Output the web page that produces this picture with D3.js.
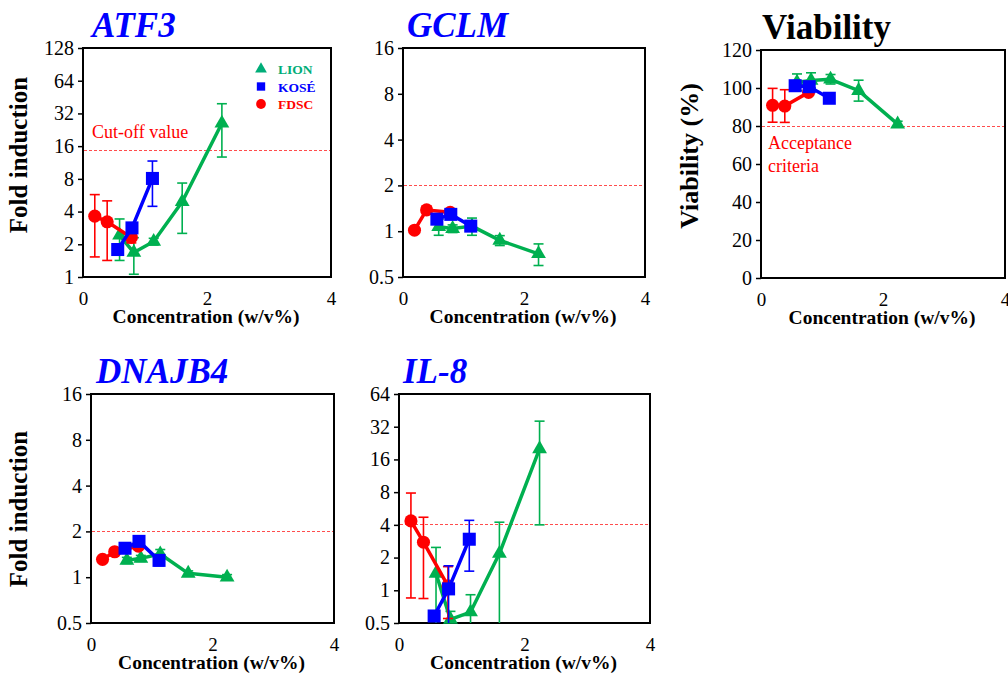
<!DOCTYPE html>
<html>
<head>
<meta charset="utf-8">
<script src="https://cdn.jsdelivr.net/npm/d3@7"></script>
<style>
  body { margin: 0; background: #fff; }
  text { font-family: "Liberation Serif", "Times New Roman", Times, serif; }
</style>
</head>
<body>
<svg id="chart" width="1008" height="673"></svg>
<script>
// Concentrations tested by each lab (w/v%)
const lionConc = [0.59, 0.82, 1.14, 1.6, 2.24];
const koseConc = [0.56, 0.79, 1.12];
const fdscConc = [0.19, 0.39, 0.78];

// ATF3 fold induction (mean, SD)
const atf3Lion = [2.42, 1.68, 2.12, 4.92, 26];
const atf3LionSd = [1.0, 0.62, 0.15, 2.4, 13.3];
const atf3Kose = [1.79, 2.83, 8.07];
const atf3KoseSd = [0.15, 0.3, 3.6];
const atf3Fdsc = [3.63, 3.22, 2.31];
const atf3FdscSd = [2.1, 1.8, 0.25];

// GCLM fold induction
const gclmLion = [1.07, 1.04, 1.08, 0.87, 0.71];
const gclmLionSd = [0.13, 0.06, 0.14, 0.065, 0.115];
const gclmKose = [1.2, 1.29, 1.08];
const gclmKoseSd = [0.08, 0.06, 0.05];
const gclmFdsc = [1.015, 1.38, 1.33];
const gclmFdscSd = [0.03, 0.08, 0.05];

// Viability (%)
const viaLion = [103, 104, 104.6, 98.6, 81];
const viaLionSd = [4.4, 4, 2.5, 5.5, 1.5];
const viaKose = [101.2, 100.7, 94.6];
const viaKoseSd = [1.5, 1.5, 2];
const viaFdsc = [90.9, 90.5, 97.7];
const viaFdscSd = [8.9, 8.6, 1.5];

// DNAJB4 fold induction
const dnajLion = [1.29, 1.33, 1.42, 1.06, 1.0];
const dnajLionSd = [0.06, 0.06, 0.1, 0.04, 0.04];
const dnajKose = [1.55, 1.72, 1.29];
const dnajKoseSd = [0.06, 0.07, 0.1];
const dnajFdsc = [1.31, 1.47, 1.6];
const dnajFdscSd = [0.04, 0.06, 0.05];

// IL-8 fold induction
const il8Lion = [1.43, 0.54, 0.63, 2.18, 20];
const il8LionSd = [1.05, 0.1, 0.28, 2.05, 16];
const il8Kose = [0.58, 1.03, 2.95];
const il8KoseSd = [0.05, 0.65, 1.45];
const il8Fdsc = [4.35, 2.77, 1.1];
const il8FdscSd = [3.5, 1.93, 0.55];

// Tick labels and thresholds
const xTicks = [0, 2, 4];
const ticks128 = [1, 2, 4, 8, 16, 32, 64, 128];
const ticks16 = [0.5, 1, 2, 4, 8, 16];
const ticks64 = [0.5, 1, 2, 4, 8, 16, 32, 64];
const ticksVia = [0, 20, 40, 60, 80, 100, 120];
const atf3Cutoff = 14.6;
const gclmCutoff = 2;
const dnajCutoff = 2;
const il8Cutoff = 4.1;
const viaCutoff = 80;

const legendNames = ['LION', 'KOSÉ', 'FDSC'];

const colors = { LION: '#00b050', KOSE: '#0000ff', FDSC: '#ff0000' };

const svg = d3.select('#chart');

// Panel layouts
const panels = [
    { id: 'atf3', title: 'ATF3', italic: true, x0: 83, x1: 331, y0: 48, y1: 277, log: true,
      domain: [1, 128], ticks: ticks128, cutoff: atf3Cutoff, yLabel: 'Fold induction', yLabelX: 19, yLabelY: 155, yLabelSize: 25,
      titleX: 92, titleY: 37, legend: true, note: ['Cut-off value'], noteX: 92, noteY: 138,
      lion: [atf3Lion, atf3LionSd], kose: [atf3Kose, atf3KoseSd], fdsc: [atf3Fdsc, atf3FdscSd] },
    { id: 'gclm', title: 'GCLM', italic: true, x0: 403, x1: 645, y0: 48, y1: 277, log: true,
      domain: [0.5, 16], ticks: ticks16, cutoff: gclmCutoff,
      titleX: 407, titleY: 37,
      lion: [gclmLion, gclmLionSd], kose: [gclmKose, gclmKoseSd], fdsc: [gclmFdsc, gclmFdscSd] },
    { id: 'via', title: 'Viability', italic: false, x0: 761, x1: 1005, y0: 50, y1: 278, log: false,
      domain: [0, 120], ticks: ticksVia, cutoff: viaCutoff, yLabel: 'Viability (%)', yLabelX: 690, yLabelY: 156, yLabelSize: 26,
      titleX: 762, titleY: 39, note: ['Acceptance', 'criteria'], noteX: 768, noteY: 149,
      lion: [viaLion, viaLionSd], kose: [viaKose, viaKoseSd], fdsc: [viaFdsc, viaFdscSd] },
    { id: 'dnaj', title: 'DNAJB4', italic: true, x0: 91, x1: 334, y0: 394, y1: 623, log: true,
      domain: [0.5, 16], ticks: ticks16, cutoff: dnajCutoff, yLabel: 'Fold induction', yLabelX: 19, yLabelY: 509, yLabelSize: 25,
      titleX: 96, titleY: 383,
      lion: [dnajLion, dnajLionSd], kose: [dnajKose, dnajKoseSd], fdsc: [dnajFdsc, dnajFdscSd] },
    { id: 'il8', title: 'IL-8', italic: true, x0: 399, x1: 650, y0: 394, y1: 623, log: true,
      domain: [0.5, 64], ticks: ticks64, cutoff: il8Cutoff,
      titleX: 403, titleY: 383,
      lion: [il8Lion, il8LionSd], kose: [il8Kose, il8KoseSd], fdsc: [il8Fdsc, il8FdscSd] }
];

const markSymbols = {
    LION: d3.symbol().type(d3.symbolTriangle).size(95),
    KOSE: d3.symbol().type(d3.symbolSquare).size(170),
    FDSC: d3.symbol().type(d3.symbolCircle).size(135)
};

panels.forEach(drawPanel);

function drawPanel(p) {
    const g = svg.append('g').attr('class', `panel ${p.id}`);

    const x = d3.scaleLinear().domain([0, 4]).range([p.x0, p.x1]);
    const y = p.log
        ? d3.scaleLog().base(2).domain(p.domain).range([p.y1, p.y0])
        : d3.scaleLinear().domain(p.domain).range([p.y1, p.y0]);

    // clip for error bars that run off the bottom
    g.append('clipPath').attr('id', `clip-${p.id}`)
        .append('rect')
        .attr('x', p.x0).attr('y', p.y0)
        .attr('width', p.x1 - p.x0).attr('height', p.y1 - p.y0);

    // y axis (ticks only, box drawn separately)
    const yAxis = d3.axisLeft(y)
        .tickValues(p.ticks)
        .tickFormat(d => String(d))
        .tickSizeInner(5)
        .tickSizeOuter(0)
        .tickPadding(4);
    const yG = g.append('g')
        .attr('transform', `translate(${p.x0},0)`)
        .call(yAxis)
        .attr('font-family', null);
    yG.select('.domain').remove();
    yG.selectAll('line').attr('stroke', '#000').attr('stroke-width', 1.5);
    yG.selectAll('text')
        .attr('fill', '#000')
        .style('font-size', '20px');

    // x axis labels only
    const xAxis = d3.axisBottom(x).tickValues(xTicks).tickFormat(d3.format('d')).tickSize(0).tickPadding(15);
    const xG = g.append('g')
        .attr('transform', `translate(0,${p.y1})`)
        .call(xAxis)
        .attr('font-family', null);
    xG.select('.domain').remove();
    xG.selectAll('text')
        .attr('fill', '#000')
        .style('font-size', '19px');

    // plot box
    g.append('rect')
        .attr('x', p.x0).attr('y', p.y0)
        .attr('width', p.x1 - p.x0).attr('height', p.y1 - p.y0)
        .attr('fill', 'none')
        .attr('stroke', '#000')
        .attr('stroke-width', 2);

    // cut-off line
    const cy = Math.round(y(p.cutoff)) + 0.5;
    g.append('line')
        .attr('x1', p.x0 + 1).attr('x2', p.x1 - 1)
        .attr('y1', cy).attr('y2', cy)
        .attr('stroke', '#ff4d4d')
        .attr('stroke-width', 1)
        .attr('stroke-dasharray', '3,2');

    // series: LION first, then FDSC, then KOSE on top
    const series = [
        { key: 'LION', conc: lionConc, mean: p.lion[0], sd: p.lion[1] },
        { key: 'FDSC', conc: fdscConc, mean: p.fdsc[0], sd: p.fdsc[1] },
        { key: 'KOSE', conc: koseConc, mean: p.kose[0], sd: p.kose[1] }
    ];

    const lineGen = d3.line()
        .x(d => x(d.c))
        .y(d => y(d.m));

    series.forEach(s => {
        const pts = s.conc.map((c, i) => ({ c: c, m: s.mean[i], sd: s.sd[i] }));
        const col = colors[s.key];
        const sg = g.append('g').attr('class', `series ${s.key}`);

        // error bars
        const eb = sg.append('g').attr('clip-path', `url(#clip-${p.id})`);
        pts.forEach(d => {
            const lowRaw = d.m - d.sd;
            const low = Math.max(lowRaw, p.domain[0]);
            const high = d.m + d.sd;
            const cx = x(d.c);
            eb.append('line')
                .attr('x1', cx).attr('x2', cx)
                .attr('y1', y(low)).attr('y2', y(high))
                .attr('stroke', col).attr('stroke-width', 1.6);
            eb.append('line')
                .attr('x1', cx - 5).attr('x2', cx + 5)
                .attr('y1', y(high)).attr('y2', y(high))
                .attr('stroke', col).attr('stroke-width', 1.6);
            if (lowRaw > p.domain[0]) {
                eb.append('line')
                    .attr('x1', cx - 5).attr('x2', cx + 5)
                    .attr('y1', y(lowRaw)).attr('y2', y(lowRaw))
                    .attr('stroke', col).attr('stroke-width', 1.6);
            }
        });

        // connecting line
        sg.append('path')
            .datum(pts)
            .attr('d', lineGen)
            .attr('fill', 'none')
            .attr('stroke', col)
            .attr('stroke-width', 3.5)
            .attr('stroke-linejoin', 'round');

        // markers
        sg.selectAll('path.mark')
            .data(pts)
            .enter().append('path')
            .attr('class', 'mark')
            .attr('transform', d => `translate(${x(d.c)},${y(d.m)})`)
            .attr('d', markSymbols[s.key]())
            .attr('fill', col);
    });

    // title
    g.append('text')
        .attr('x', p.titleX).attr('y', p.titleY)
        .attr('fill', p.italic ? '#0000ff' : '#000')
        .style('font-size', '35px')
        .style('font-weight', 'bold')
        .style('font-style', p.italic ? 'italic' : 'normal')
        .text(p.title);

    // x axis title
    g.append('text')
        .attr('x', (p.x0 + p.x1) / 2 - 1)
        .attr('y', p.y1 + 46)
        .attr('text-anchor', 'middle')
        .style('font-size', '19.5px')
        .style('font-weight', 'bold')
        .text('Concentration (w/v%)');

    // y axis title
    if (p.yLabel) {
        g.append('text')
            .attr('transform', `translate(${p.yLabelX + 8},${p.yLabelY}) rotate(-90)`)
            .attr('text-anchor', 'middle')
            .style('font-size', p.yLabelSize + 'px')
            .style('font-weight', 'bold')
            .text(p.yLabel);
    }

    // red annotation
    if (p.note) {
        p.note.forEach((t, i) => {
            g.append('text')
                .attr('x', p.noteX).attr('y', p.noteY + i * 23)
                .attr('fill', '#ff0000')
                .style('font-size', '18px')
                .text(t);
        });
    }

    if (p.legend) drawLegend(g);
}

function drawLegend(g) {
    const keys = ['LION', 'KOSE', 'FDSC'];
    const legendSymbols = {
        LION: d3.symbol().type(d3.symbolTriangle).size(60),
        KOSE: d3.symbol().type(d3.symbolSquare).size(70),
        FDSC: d3.symbol().type(d3.symbolCircle).size(75)
    };
    const lg = g.append('g').attr('class', 'legend');
    keys.forEach((k, i) => {
        const ly = 69 + i * 17.5;
        const col = k === 'LION' ? '#00ad78' : colors[k];
        lg.append('path')
            .attr('transform', `translate(261,${ly})`)
            .attr('d', legendSymbols[k]())
            .attr('fill', col);
        lg.append('text')
            .attr('x', 278).attr('y', ly + 5)
            .attr('fill', col)
            .style('font-size', '13.5px')
            .style('font-weight', 'bold')
            .text(legendNames[i]);
    });
}
</script>
</body>
</html>
